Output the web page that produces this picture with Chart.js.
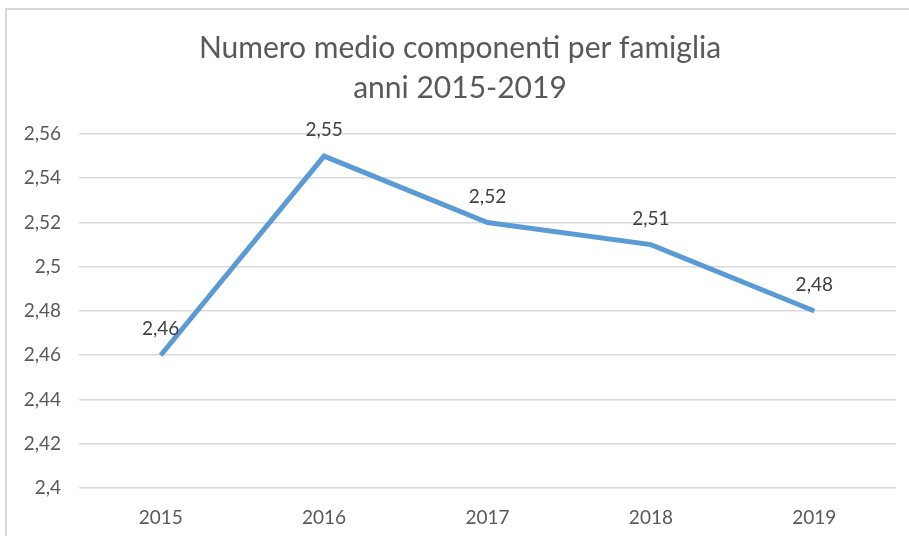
<!DOCTYPE html>
<html>
<head>
<meta charset="utf-8">
<script src="https://cdn.jsdelivr.net/npm/chart.js@4/dist/chart.umd.min.js"></script>
<style>
  html, body { margin: 0; padding: 0; background: #fff; overflow: hidden; }
  #frame {
    position: absolute; left: 5px; top: 8px;
    width: 904px; height: 528px;
    border-left: 2px solid #d9d9d9; border-top: 2px solid #d9d9d9;
  }
  #wrap { position: absolute; left: 0; top: 0; width: 902px; height: 526px; }
</style>
</head>
<body>
<div id="frame"><div id="wrap"><canvas id="chart"></canvas></div></div>
<script>
// data
const years = ['2015', '2016', '2017', '2018', '2019'];
const avgMembers = [2.46, 2.55, 2.52, 2.51, 2.48];
const titleLines = ['Numero medio componenti per famiglia', 'anni 2015-2019'];

const FONT = 'Lato, "Open Sans", sans-serif';
const fmt = v => String(Math.round(v * 100) / 100).replace('.', ',');

// draws the value above each point
const valueLabels = {
  id: 'valueLabels',
  afterDatasetsDraw(chart) {
    const ctx = chart.ctx;
    const meta = chart.getDatasetMeta(0);
    ctx.save();
    ctx.font = '19px ' + FONT;
    ctx.fillStyle = '#404040';
    ctx.textAlign = 'center';
    ctx.textBaseline = 'middle';
    meta.data.forEach((pt, i) => {
      ctx.fillText(fmt(avgMembers[i]), pt.x, pt.y - 26);
    });
    ctx.restore();
  }
};

new Chart(document.getElementById('chart'), {
  type: 'line',
  data: {
    labels: years,
    datasets: [{
      data: avgMembers,
      borderColor: '#5B9BD5',
      borderWidth: 5,
      pointRadius: 0,
      tension: 0,
      fill: false
    }]
  },
  options: {
    responsive: true,
    maintainAspectRatio: false,
    animation: false,
    layout: { padding: { left: 17, right: 13, top: 0, bottom: 0 } },
    plugins: {
      legend: { display: false },
      tooltip: { enabled: false },
      title: {
        display: true,
        text: titleLines,
        color: '#595959',
        font: { family: FONT, size: 30, weight: 'normal', lineHeight: 1.333 },
        padding: { top: 18, bottom: 26 }
      }
    },
    scales: {
      x: {
        offset: true,
        grid: { display: false, drawTicks: false },
        border: { display: false },
        ticks: { color: '#595959', font: { family: FONT, size: 19 }, padding: 18 },
        afterFit(scale) { scale.height = 48; }
      },
      y: {
        min: 2.4,
        max: 2.56,
        grid: { color: '#d9d9d9', lineWidth: 1.5, drawTicks: false },
        border: { display: false },
        ticks: {
          stepSize: 0.02,
          color: '#595959',
          font: { family: FONT, size: 19 },
          padding: 18,
          callback: v => fmt(v)
        },
        afterFit(scale) { scale.width = 55; }
      }
    }
  },
  plugins: [valueLabels]
});
</script>
</body>
</html>
